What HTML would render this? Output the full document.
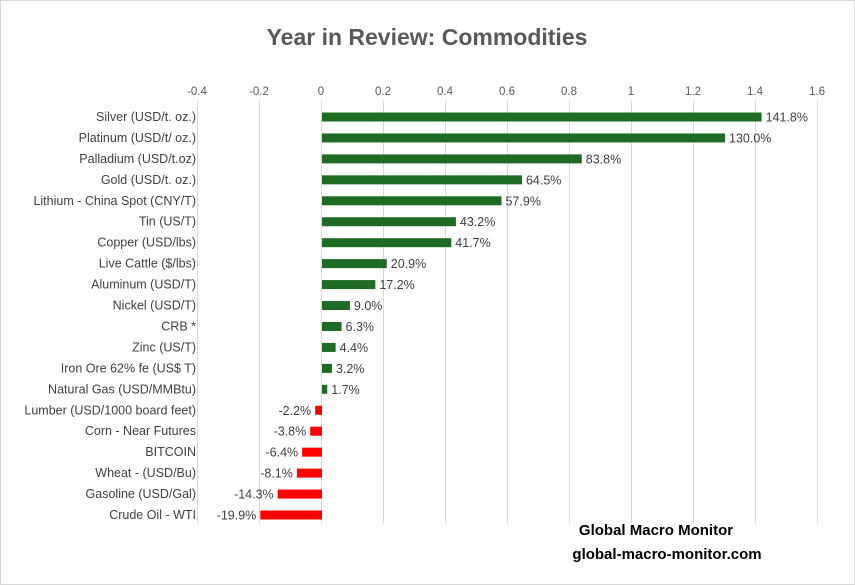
<!DOCTYPE html>
<html><head><style>
body{margin:0;background:#fff;}
svg{display:block;font-family:"Liberation Sans",Arial,sans-serif;}
</style></head><body>
<svg width="855" height="585" viewBox="0 0 855 585" xmlns="http://www.w3.org/2000/svg">
<rect width="855" height="585" fill="#fff"/>
<rect x="0.5" y="0.5" width="854" height="584" fill="none" stroke="#d9d9d9"/>
<text x="427" y="45" text-anchor="middle" font-size="23" font-weight="bold" fill="#595959">Year in Review:  Commodities</text>
<g stroke="#d9d9d9" stroke-width="1">
<line x1="197.5" y1="101" x2="197.5" y2="523"/>
<line x1="259.5" y1="101" x2="259.5" y2="523"/>
<line x1="321.5" y1="101" x2="321.5" y2="523"/>
<line x1="383.5" y1="101" x2="383.5" y2="523"/>
<line x1="445.5" y1="101" x2="445.5" y2="523"/>
<line x1="507.5" y1="101" x2="507.5" y2="523"/>
<line x1="569.5" y1="101" x2="569.5" y2="523"/>
<line x1="631.5" y1="101" x2="631.5" y2="523"/>
<line x1="693.5" y1="101" x2="693.5" y2="523"/>
<line x1="755.5" y1="101" x2="755.5" y2="523"/>
<line x1="817.5" y1="101" x2="817.5" y2="523"/>
</g>
<g font-size="11.5" fill="#595959" text-anchor="middle">
<text x="197" y="95">-0.4</text><text x="259" y="95">-0.2</text><text x="321" y="95">0</text>
<text x="383" y="95">0.2</text><text x="445" y="95">0.4</text><text x="507" y="95">0.6</text>
<text x="569" y="95">0.8</text><text x="631" y="95">1</text><text x="693" y="95">1.2</text>
<text x="755" y="95">1.4</text><text x="817" y="95">1.6</text>
</g>
<g id="rows" font-size="12.5" fill="#404040"></g>
<text x="656" y="535" text-anchor="middle" font-size="15" font-weight="bold" fill="#000">Global Macro Monitor</text>
<text x="667" y="559" text-anchor="middle" font-size="15" font-weight="bold" fill="#000">global-macro-monitor.com</text>
</svg>
<script>
var d=[["Silver (USD/t. oz.)",141.8],["Platinum (USD/t/ oz.)",130.0],["Palladium (USD/t.oz)",83.8],["Gold (USD/t. oz.)",64.5],["Lithium - China Spot (CNY/T)",57.9],["Tin (US/T)",43.2],["Copper (USD/lbs)",41.7],["Live Cattle ($/lbs)",20.9],["Aluminum (USD/T)",17.2],["Nickel (USD/T)",9.0],["CRB *",6.3],["Zinc (US/T)",4.4],["Iron Ore 62% fe (US$ T)",3.2],["Natural Gas  (USD/MMBtu)",1.7],["Lumber (USD/1000 board feet)",-2.2],["Corn - Near Futures",-3.8],["BITCOIN",-6.4],["Wheat - (USD/Bu)",-8.1],["Gasoline (USD/Gal)",-14.3],["Crude Oil - WTI",-19.9]];
var g=document.getElementById("rows"),h="";
d.forEach(function(r,i){var y=117+i*((515-117)/19);
var w=r[1]/100*310,x0=322,bx=w>=0?x0:x0+w,bw=Math.abs(w),c=w>=0?"#1e6b24":"#ff0000";
h+='<text x="196" y="'+(y+4)+'" text-anchor="end">'+r[0].replace(/&/g,"&amp;")+'</text>';
h+='<rect x="'+bx+'" y="'+(y-4.5)+'" width="'+bw+'" height="9" fill="'+c+'"/>';
var lbl=r[1].toFixed(1)+'%';
if(w>=0)h+='<text x="'+(x0+bw+4)+'" y="'+(y+4.5)+'">'+lbl+'</text>';
else h+='<text x="'+(bx-4)+'" y="'+(y+4.5)+'" text-anchor="end">'+lbl+'</text>';});
g.innerHTML=h;
</script>
</body></html>
